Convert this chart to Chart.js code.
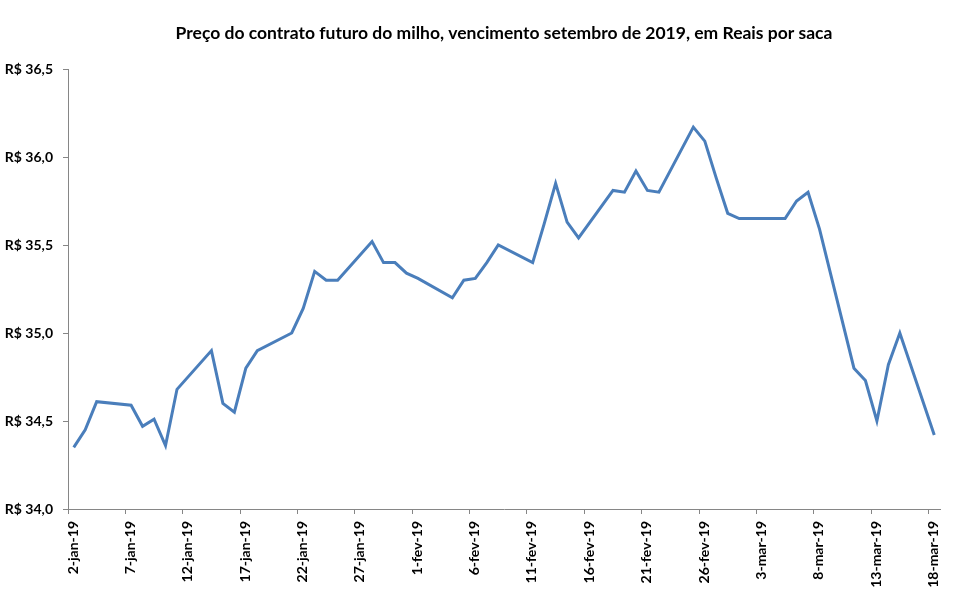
<!DOCTYPE html>
<html lang="pt-BR">
<head>
<meta charset="utf-8">
<title>Milho setembro 2019</title>
<script src="https://cdn.jsdelivr.net/npm/chart.js@4/dist/chart.umd.min.js"></script>
<style>
  html, body { margin: 0; padding: 0; background: #fff; }
  canvas { display: block; }
</style>
</head>
<body>
<canvas id="grafico" width="961" height="594"></canvas>
<script>
// Datas dos pregões (jan-mar 2019) e preço de ajuste em R$/saca
const datas = [
  '2019-01-02', '2019-01-03', '2019-01-04', '2019-01-07', '2019-01-08', '2019-01-09',
  '2019-01-10', '2019-01-11', '2019-01-14', '2019-01-15', '2019-01-16', '2019-01-17',
  '2019-01-18', '2019-01-21', '2019-01-22', '2019-01-23', '2019-01-24', '2019-01-25',
  '2019-01-28', '2019-01-29', '2019-01-30', '2019-01-31', '2019-02-01', '2019-02-04',
  '2019-02-05', '2019-02-06', '2019-02-07', '2019-02-08', '2019-02-11', '2019-02-12',
  '2019-02-13', '2019-02-14', '2019-02-15', '2019-02-18', '2019-02-19', '2019-02-20',
  '2019-02-21', '2019-02-22', '2019-02-25', '2019-02-26', '2019-02-27', '2019-02-28',
  '2019-03-01', '2019-03-04', '2019-03-05', '2019-03-06', '2019-03-07', '2019-03-08',
  '2019-03-11', '2019-03-12', '2019-03-13', '2019-03-14', '2019-03-15', '2019-03-18'
];
const precos = [
  34.35, 34.45, 34.61, 34.59, 34.47, 34.51,
  34.36, 34.68, 34.90, 34.60, 34.55, 34.80,
  34.90, 35.00, 35.14, 35.35, 35.30, 35.30,
  35.52, 35.40, 35.40, 35.34, 35.31, 35.20,
  35.30, 35.31, 35.40, 35.50, 35.40, 35.62,
  35.85, 35.63, 35.54, 35.81, 35.80, 35.92,
  35.81, 35.80, 36.17, 36.09, 35.88, 35.68,
  35.65, 35.65, 35.65, 35.75, 35.80, 35.59,
  34.80, 34.73, 34.50, 34.82, 35.00, 34.42
];
const meses = ['jan', 'fev', 'mar', 'abr'];
const eixoY = { min: 34.0, max: 36.5, passo: 0.5 };
const eixoX = { dias: 76, passo: 5 }; // 2-jan ate 18-mar + 1

const inicio = Date.UTC(2019, 0, 2);
const umDia = 86400000;

function diaDoIndice(str) {
  const p = str.split('-').map(Number);
  return (Date.UTC(p[0], p[1] - 1, p[2]) - inicio) / umDia;
}

// cada pregão fica no meio do seu dia (como no eixo de datas do Excel)
const pontos = datas.map((d, i) => ({ x: diaDoIndice(d) + 0.5, y: precos[i] }));

function rotuloData(v) {
  const dt = new Date(inicio + v * umDia);
  return dt.getUTCDate() + '-' + meses[dt.getUTCMonth()] + '-19';
}

const fonte = 'Lato, Calibri, "Open Sans", sans-serif';
const cinza = '#868686';

new Chart(document.getElementById('grafico'), {
  type: 'line',
  data: {
    datasets: [{
      label: 'Preço',
      data: pontos,
      borderColor: '#4a7ebb',
      borderWidth: 3,
      pointRadius: 0,
      tension: 0,
      fill: false
    }]
  },
  options: {
    responsive: false,
    animation: false,
    devicePixelRatio: 1,
    layout: { padding: { left: 0, right: 21, top: 0, bottom: 0 } },
    plugins: {
      legend: { display: false },
      tooltip: { enabled: false },
      title: {
        display: true,
        fullSize: false,
        text: 'Preço do contrato futuro do milho, vencimento setembro de 2019, em Reais por saca',
        color: '#000',
        font: { family: fonte, size: 17.5, weight: 'bold' },
        lineHeight: 1.2,
        padding: { top: 23, bottom: 25 }
      }
    },
    scales: {
      x: {
        type: 'linear',
        min: 0,
        max: eixoX.dias,
        afterFit: (s) => { s.height = 85; },
        border: { color: cinza, width: 1 },
        grid: { display: true, drawOnChartArea: false, color: cinza, tickLength: 5 },
        ticks: {
          stepSize: eixoX.passo,
          includeBounds: false,
          autoSkip: false,
          maxRotation: 90,
          minRotation: 90,
          labelOffset: 5,
          padding: 7,
          color: '#000',
          font: { family: fonte, size: 14, weight: 'bold' },
          callback: (v) => rotuloData(v)
        }
      },
      y: {
        min: eixoY.min,
        max: eixoY.max,
        afterFit: (s) => { s.width = 68; },
        border: { color: cinza, width: 1 },
        grid: { display: true, drawOnChartArea: false, color: cinza, tickLength: 5 },
        ticks: {
          stepSize: eixoY.passo,
          padding: 10,
          color: '#000',
          font: { family: fonte, size: 14, weight: 'bold' },
          callback: (v) => 'R$ ' + v.toFixed(1).replace('.', ',')
        }
      }
    }
  }
});
</script>
</body>
</html>
